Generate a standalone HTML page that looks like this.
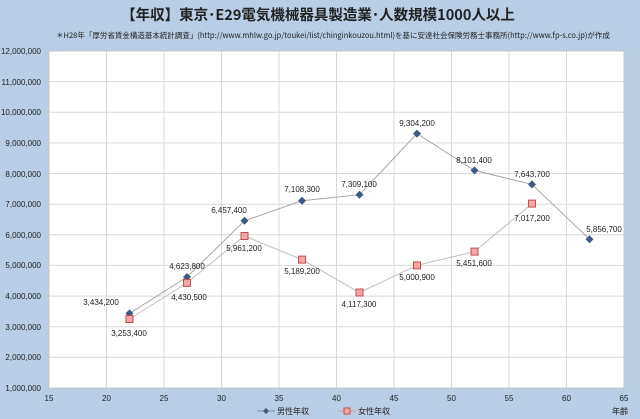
<!DOCTYPE html>
<html><head><meta charset="utf-8"><style>
html,body{margin:0;padding:0;background:#b9cde4;}
svg{display:block;font-family:"Liberation Sans","Noto Sans CJK JP",sans-serif;}
</style></head><body>
<svg width="640" height="419" viewBox="0 0 640 419">
<rect x="0" y="0" width="640" height="419" fill="#b9cde4"/>
<text x="318" y="20" font-size="14.5" font-weight="bold" text-anchor="middle" fill="#222" font-family="'Noto Sans CJK JP',sans-serif">【年収】東京･E29電気機械器具製造業･人数規模1000人以上</text>
<text x="333" y="38" font-size="7.5" text-anchor="middle" fill="#222" font-family="'Noto Sans CJK JP',sans-serif">＊H28年「厚労省賃金構造基本統計調査」(http://www.mhlw.go.jp/toukei/list/chinginkouzou.html)を基に安達社会保険労務士事務所(http://www.fp-s.co.jp)が作成</text>
<rect x="49" y="51" width="575" height="337" fill="#fff"/>
<g stroke="#d9d9d9" stroke-width="1">
<line x1="49" x2="624" y1="81.6" y2="81.6"/><line x1="49" x2="624" y1="112.3" y2="112.3"/><line x1="49" x2="624" y1="142.9" y2="142.9"/><line x1="49" x2="624" y1="173.5" y2="173.5"/><line x1="49" x2="624" y1="204.2" y2="204.2"/><line x1="49" x2="624" y1="234.8" y2="234.8"/><line x1="49" x2="624" y1="265.4" y2="265.4"/><line x1="49" x2="624" y1="296.1" y2="296.1"/><line x1="49" x2="624" y1="326.7" y2="326.7"/><line x1="49" x2="624" y1="357.4" y2="357.4"/>
<line y1="51" y2="388" x1="106.5" x2="106.5"/><line y1="51" y2="388" x1="164" x2="164"/><line y1="51" y2="388" x1="221.5" x2="221.5"/><line y1="51" y2="388" x1="279" x2="279"/><line y1="51" y2="388" x1="336.5" x2="336.5"/><line y1="51" y2="388" x1="394" x2="394"/><line y1="51" y2="388" x1="451.5" x2="451.5"/><line y1="51" y2="388" x1="509" x2="509"/><line y1="51" y2="388" x1="566.5" x2="566.5"/>
</g>
<rect x="49" y="51" width="575" height="337" fill="none" stroke="#c8c8c8"/>
<g font-size="8" fill="#222" text-anchor="end">
<text x="41" y="54">12,000,000</text><text x="41" y="85">11,000,000</text><text x="41" y="115">10,000,000</text><text x="41" y="146">9,000,000</text><text x="41" y="177">8,000,000</text><text x="41" y="207">7,000,000</text><text x="41" y="238">6,000,000</text><text x="41" y="268">5,000,000</text><text x="41" y="299">4,000,000</text><text x="41" y="330">3,000,000</text><text x="41" y="360">2,000,000</text><text x="41" y="391">1,000,000</text>
</g>
<g font-size="8" fill="#222" text-anchor="middle">
<text x="49" y="401">15</text><text x="106.5" y="401">20</text><text x="164" y="401">25</text><text x="221.5" y="401">30</text><text x="279" y="401">35</text><text x="336.5" y="401">40</text><text x="394" y="401">45</text><text x="451.5" y="401">50</text><text x="509" y="401">55</text><text x="566.5" y="401">60</text><text x="624" y="401">65</text>
</g>
<polyline fill="none" stroke="#a6a6a6" stroke-width="1" points="129.5,313.4 187,277 244.5,220.8 302,200.8 359.5,194.7 417,133.6 474.5,170.4 532,184.4 589.5,239.2"/>
<polyline fill="none" stroke="#bfbfbf" stroke-width="1" points="129.5,319 187,282.9 244.5,236 302,259.6 359.5,292.5 417,265.4 474.5,251.6 532,203.6"/>
<g fill="#3d5a80">
<path d="M129.5,309.4l4,4-4,4-4-4z"/><path d="M187,273l4,4-4,4-4-4z"/><path d="M244.5,216.8l4,4-4,4-4-4z"/><path d="M302,196.8l4,4-4,4-4-4z"/><path d="M359.5,190.7l4,4-4,4-4-4z"/><path d="M417,129.6l4,4-4,4-4-4z"/><path d="M474.5,166.4l4,4-4,4-4-4z"/><path d="M532,180.4l4,4-4,4-4-4z"/><path d="M589.5,235.2l4,4-4,4-4-4z"/>
</g>
<g fill="#f2a7a4" stroke="#c0504d" stroke-width="1">
<rect x="126" y="315.5" width="7" height="7"/><rect x="183.5" y="279.4" width="7" height="7"/><rect x="241" y="232.5" width="7" height="7"/><rect x="298.5" y="256.1" width="7" height="7"/><rect x="356" y="289" width="7" height="7"/><rect x="413.5" y="261.9" width="7" height="7"/><rect x="471" y="248.1" width="7" height="7"/><rect x="528.5" y="200.1" width="7" height="7"/>
</g>
<g font-size="8" fill="#222" text-anchor="middle">
<text x="101" y="305">3,434,200</text><text x="187" y="269">4,623,800</text><text x="229" y="213">6,457,400</text><text x="302" y="192">7,108,300</text><text x="359" y="187">7,309,100</text><text x="417" y="126">9,304,200</text><text x="474" y="163">8,101,400</text><text x="532" y="177">7,643,700</text><text x="604" y="232">5,856,700</text>
<text x="129" y="336">3,253,400</text><text x="189" y="300">4,430,500</text><text x="244" y="251">5,961,200</text><text x="302" y="274">5,189,200</text><text x="359" y="307">4,117,300</text><text x="417" y="280">5,000,900</text><text x="474" y="266">5,451,600</text><text x="532" y="221">7,017,200</text>
</g>
<g font-size="8" fill="#222" font-family="'Noto Sans CJK JP',sans-serif">
<line x1="257" x2="275" y1="411" y2="411" stroke="#7f8fa6"/><path d="M266,408l3,3-3,3-3-3z" fill="#3d5a80"/>
<text x="277" y="414">男性年収</text>
<line x1="338" x2="356" y1="411" y2="411" stroke="#d99"/><rect x="344" y="408" width="6" height="6" fill="#f2a7a4" stroke="#c0504d"/>
<text x="358" y="414">女性年収</text>
<text x="612" y="414">年齢</text>
</g>
</svg>
</body></html>
